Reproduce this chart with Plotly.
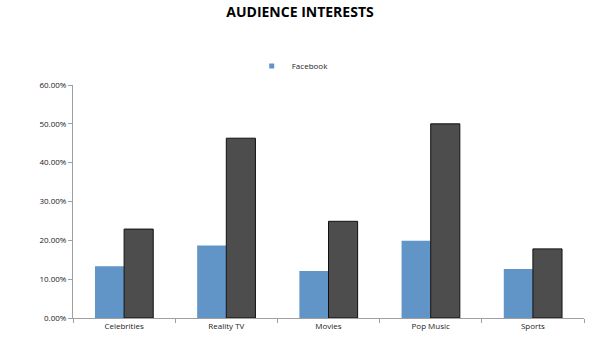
import plotly.graph_objects as go

categories = ["Celebrities", "Reality TV", "Movies", "Pop Music", "Sports"]
facebook = [0.133, 0.187, 0.121, 0.199, 0.126]
other = [0.229, 0.463, 0.249, 0.500, 0.178]
y_ticks = [0, 0.1, 0.2, 0.3, 0.4, 0.5, 0.6]

BLUE = "#6195C8"
fig = go.Figure()
fig.add_trace(go.Bar(x=categories, y=facebook, name="Facebook", showlegend=False,
                     marker=dict(color=BLUE, line=dict(width=0))))
fig.add_trace(go.Bar(x=categories, y=other, name="", showlegend=False,
                     marker=dict(color="#4D4D4D", line=dict(color="#111111", width=1))))
# legend entry with a small square symbol, like the original
fig.add_trace(go.Scatter(x=[None], y=[None], mode="markers", name="Facebook",
                         marker=dict(symbol="square", size=5, color=BLUE),
                         showlegend=True))

fig.update_layout(
    width=600, height=350,
    margin=dict(l=73, r=16, t=85, b=32),
    paper_bgcolor="white", plot_bgcolor="white",
    barmode="group", bargap=0.43, bargroupgap=0,
    font=dict(family="Open Sans, Liberation Sans, sans-serif", size=8, color="#222222"),
    title=dict(text="<b>AUDIENCE INTERESTS</b>", x=0.5, xanchor="center",
               y=0.965, yanchor="middle",
               font=dict(size=14, color="#000000", family="Open Sans, sans-serif")),
    legend=dict(orientation="h", x=0.43, xanchor="center", y=1.082, yanchor="middle",
                font=dict(size=8), itemwidth=30),
    showlegend=True,
)
fig.update_xaxes(showline=True, linecolor="#A0A0A0", linewidth=1,
                 ticks="outside", ticklen=4, tickcolor="#A0A0A0",
                 tickson="boundaries", showgrid=False)
fig.update_yaxes(range=[0, 0.6], tickvals=y_ticks, tickformat=".2%",
                 showline=True, linecolor="#A0A0A0", linewidth=1,
                 ticks="outside", ticklen=4, tickcolor="#A0A0A0",
                 showgrid=False, zeroline=False)

fig.write_html("out.html")
